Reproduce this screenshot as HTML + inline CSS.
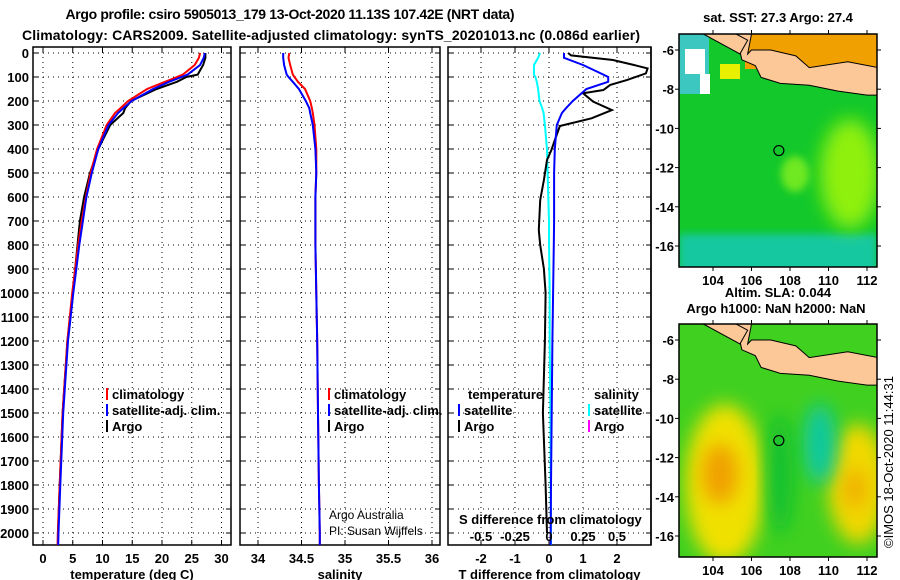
<!DOCTYPE html>
<html><head><meta charset="utf-8"><style>
html,body{margin:0;padding:0;background:#fff}
svg{display:block;font-family:"Liberation Sans",sans-serif}
.t{font-weight:bold;font-size:13px}
</style></head><body>
<svg id="s" width="900" height="580" viewBox="0 0 900 580">
<defs>
<filter id="bl" x="-50%" y="-50%" width="200%" height="200%"><feGaussianBlur stdDeviation="9"/></filter>
<filter id="bl2" x="-50%" y="-50%" width="200%" height="200%"><feGaussianBlur stdDeviation="4"/></filter>
<clipPath id="c1"><rect x="679" y="34" width="198" height="233"/></clipPath>
<clipPath id="c2"><rect x="679" y="324" width="198" height="233"/></clipPath>
</defs>
<text x="290" y="19" text-anchor="middle" class="t" font-size="14" style="font-size:14px" textLength="449">Argo profile: csiro 5905013_179 13-Oct-2020 11.13S 107.42E (NRT data)</text>
<text x="331" y="40" text-anchor="middle" class="t" style="font-size:14px" textLength="618">Climatology: CARS2009. Satellite-adjusted climatology: synTS_20201013.nc (0.086d earlier)</text>
<g id="plots"></g>
<g id="maps"></g>
<text transform="translate(893,548) rotate(-90)" style="font-size:13px">©IMOS 18-Oct-2020 11:44:31</text>
</svg>
<script>
// depth levels (m)
const depths=[0,20,50,90,100,120,150,200,230,250,300,400,500,600,700,800,1000,1200,1500,1800,2000,2050];
// temperature (deg C)
const tClim=[26.4,26.2,25.5,23.5,22.5,20.5,17.5,14.3,13.0,12.1,10.7,9.1,8.0,7.2,6.5,5.9,4.9,4.1,3.3,2.8,2.5,2.45];
const tSat=[27.2,27.0,26.4,24.3,23.3,21.2,18.5,14.9,13.5,12.6,11.0,9.3,8.2,7.3,6.7,6.1,5.1,4.2,3.4,2.9,2.6,2.55];
const tArgo=[27.3,27.3,26.9,26.0,24.1,22.5,19.1,14.8,13.8,13.5,11.3,9.3,7.9,6.9,6.2,5.8,5.0,4.1,3.3,2.8,2.5,2.5];
// salinity
const sClim=[34.36,34.35,34.37,34.40,34.42,34.46,34.54,34.60,34.62,34.63,34.65,34.67,34.67,34.66,34.66,34.66,34.67,34.68,34.69,34.70,34.71,34.71];
const sSat=[34.29,34.29,34.30,34.33,34.35,34.40,34.47,34.55,34.59,34.60,34.63,34.66,34.67,34.66,34.66,34.66,34.67,34.68,34.69,34.70,34.71,34.71];
// differences from climatology
const dTsat=[0.44,0.44,1.0,1.6,1.74,1.74,1.1,0.7,0.5,0.38,0.23,0.17,0.15,0.15,0.15,0.14,0.12,0.1,0.08,0.06,0.05,0.05];
const dDepthArgo=[0,10,29,50,64,85,112,133,154,168,203,238,272,304,363,404,446,529,613,738,800,900,1000,1200,1500,1800,2000];
const dTargo=[0.56,0.65,1.88,2.5,2.9,2.85,2.3,1.8,1.6,1.0,1.3,1.85,1.25,0.32,0.17,0.07,-0.06,-0.15,-0.26,-0.3,-0.26,-0.15,-0.1,-0.12,-0.18,-0.1,-0.06];
const dSsat=[-0.066,-0.08,-0.11,-0.11,-0.10,-0.09,-0.08,-0.07,-0.05,-0.04,-0.03,-0.015,-0.01,-0.005,0,0,0.005,0.005,0.01,0.012,0.015,0.015];
const depthTicks=[0,100,200,300,400,500,600,700,800,900,1000,1100,1200,1300,1400,1500,1600,1700,1800,1900,2000];
const tTicks=[0,5,10,15,20,25,30];
const sTicks=[34,34.5,35,35.5,36];
const sTickLabels=["34","34.5","35","35.5","36"];
const dTTicks=[-2,-1,0,1,2];
const dSTicks=[-0.5,-0.25,0,0.25,0.5];
const dSTickLabels=["-0.5","-0.25","0","0.25","0.5"];

const NS="http://www.w3.org/2000/svg";
const G=document.getElementById('plots');
function mk(tag,at,parent){const e=document.createElementNS(NS,tag);for(const k in at)e.setAttribute(k,at[k]);(parent||G).appendChild(e);return e;}
const yD=d=>53+d*0.24;
const Y0=47,Y1=545;
function panel(name,x0,x1,xs,vticks,labels,title){
  const g=mk('g',{});
  
  
  mk('rect',{x:x0,y:Y0,width:x1-x0,height:Y1-Y0,fill:'#fff',stroke:'#000','stroke-width':1.5},g);
  depthTicks.forEach(d=>{mk('line',{x1:x0,x2:x1,y1:yD(d),y2:yD(d),stroke:'#000','stroke-dasharray':'1 4'},g);
    mk('line',{x1:x0,x2:x0+5,y1:yD(d),y2:yD(d),stroke:'#000'},g);mk('line',{x1:x1-5,x2:x1,y1:yD(d),y2:yD(d),stroke:'#000'},g);});
  vticks.forEach((v,i)=>{const x=xs(v);mk('line',{x1:x,x2:x,y1:Y0,y2:Y1,stroke:'#000','stroke-dasharray':'1 4'},g);
    mk('line',{x1:x,x2:x,y1:Y0,y2:Y0+5,stroke:'#000'},g);mk('line',{x1:x,x2:x,y1:Y1-5,y2:Y1,stroke:'#000'},g);
    const t=mk('text',{x:x,y:563,'text-anchor':'middle',class:'t'},g);t.textContent=labels[i];
    
    });
  const tt=mk('text',{x:(x0+x1)/2,y:579,'text-anchor':'middle',class:'t'},g);tt.textContent=title;
  
  
  return g;
}
function line(g,xs,vals,ds,color,name,w){
  const p=mk('polyline',{points:vals.map((v,i)=>xs(v).toFixed(1)+','+yD(ds[i]).toFixed(1)).join(' '),fill:'none',stroke:color,'stroke-width':w||2},g);
  
  
}
function legend(g,x,y,color,label){
  if(color)mk('rect',{x:x,y:y-11,width:2,height:12,fill:color},g);
  const t=mk('text',{x:x+6,y:y,class:'t'},g);t.textContent=label;
  
  
}
// panel 1
const xT=v=>43+v*5.95;
const g1=panel('temperature-panel',33,231,xT,tTicks,tTicks.map(String),'temperature (deg C)');
depthTicks.forEach(d=>{const t=mk('text',{x:29,y:yD(d)+5,'text-anchor':'end',class:'t'});t.textContent=d;
  
  });
line(g1,xT,tArgo,depths,'#000','argo-temperature-line');
line(g1,xT,tClim,depths,'#f00','climatology-temperature-line');
line(g1,xT,tSat,depths,'#00f','satellite-temperature-line');
legend(g1,106,399,'#f00','climatology');legend(g1,106,415,'#00f','satellite-adj. clim.');legend(g1,106,431,'#000','Argo');
// panel 2
const xS=v=>258+(v-34)*87;
const g2=panel('salinity-panel',240,440,xS,sTicks,sTickLabels,'salinity');
line(g2,xS,sClim,depths,'#f00','climatology-salinity-line');
line(g2,xS,sSat.map((v,i)=>v),depths,'#000','argo-salinity-line',1.5);
line(g2,xS,sSat,depths,'#00f','satellite-salinity-line');
legend(g2,328,399,'#f00','climatology');legend(g2,328,415,'#00f','satellite-adj. clim.');legend(g2,328,431,'#000','Argo');
let a=mk('text',{x:329,y:519,'font-size':12},g2);a.textContent='Argo Australia';


a=mk('text',{x:329,y:535,'font-size':12},g2);a.textContent='PI: Susan Wijffels';


// panel 3
const xD=v=>549+v*34;
const xDS=v=>549+v*136;
const g3=panel('difference-panel',448,651,xD,dTTicks,dTTicks.map(String),'T difference from climatology');
mk('line',{x1:651,x2:651,y1:Y0,y2:Y1,stroke:'#000','stroke-width':1.5},g3);
line(g3,xDS,dSsat,depths,'#0ff','salinity-satellite-diff-line');
line(g3,xD,dTargo,dDepthArgo,'#000','temperature-argo-diff-line');
line(g3,xD,dTsat,depths,'#00f','temperature-satellite-diff-line');
legend(g3,462,399,null,'temperature');legend(g3,458,415,'#00f','satellite');legend(g3,458,431,'#000','Argo');
legend(g3,588,399,null,'salinity');legend(g3,588,415,'#0ff','satellite');legend(g3,588,431,'#f0f','Argo');
a=mk('text',{x:459,y:524,class:'t'},g3);a.textContent='S difference from climatology';


dSTicks.forEach((v,i)=>{const t=mk('text',{x:xDS(v),y:541,'text-anchor':'middle',class:'t'},g3);t.textContent=dSTickLabels[i];
  
  });

// maps
const M=document.getElementById('maps');
const lonTicks=[104,106,108,110,112];
const latTicks=[-6,-8,-10,-12,-14,-16];
function mapPanel(name,top,kind){
  const g=mk('g',{},M);
  
  
  const lx=v=>713+(v-104)*19.25, ly=v=>top+16+(-6-v)*19.6;
  const c=mk('g',{'clip-path':'url(#'+(kind==1?'c1':'c2')+')'},g);
  if(kind==1){
    mk('rect',{x:679,y:top,width:198,height:233,fill:'#12c82a'},c);
    mk('rect',{x:679,y:top+200,width:198,height:40,fill:'#18c8a0',filter:'url(#bl2)'},c);
    mk('ellipse',{cx:850,cy:top+140,rx:30,ry:55,fill:'#90f010',filter:'url(#bl)'},c);
    mk('ellipse',{cx:795,cy:top+140,rx:14,ry:18,fill:'#70e820',filter:'url(#bl2)'},c);
    mk('rect',{x:679,y:top,width:30,height:60,fill:'#3cc8c0'},c);
    mk('rect',{x:685,y:top+15,width:20,height:25,fill:'#fff'},c);
    mk('rect',{x:700,y:top+40,width:10,height:20,fill:'#fff'},c);
    mk('rect',{x:720,y:top+30,width:20,height:15,fill:'#e8f000'},c);
    mk('rect',{x:745,y:top,width:132,height:35,fill:'#f0a000'},c);
  } else {
    mk('rect',{x:679,y:top,width:198,height:233,fill:'#40d020'},c);
    mk('ellipse',{cx:725,cy:top+160,rx:40,ry:80,fill:'#f0e000',filter:'url(#bl)'},c);
    mk('ellipse',{cx:720,cy:top+150,rx:18,ry:30,fill:'#f0a000',filter:'url(#bl)'},c);
    mk('ellipse',{cx:858,cy:top+160,rx:30,ry:60,fill:'#f0d800',filter:'url(#bl)'},c);
    mk('ellipse',{cx:855,cy:top+165,rx:12,ry:20,fill:'#f0b000',filter:'url(#bl)'},c);
    mk('ellipse',{cx:820,cy:top+120,rx:16,ry:40,fill:'#10c8a0',filter:'url(#bl)'},c);
    mk('ellipse',{cx:780,cy:top+150,rx:12,ry:60,fill:'#10c030',filter:'url(#bl)'},c);
  }
  // land (Java / Sumatra)
  mk('path',{d:`M${lx(105.2)},${top} L${lx(105.5)},${ly(-6.5)} L${lx(106.2)},${ly(-6.8)} L${lx(106.5)},${ly(-7.4)} L${lx(107.5)},${ly(-7.7)} L${lx(109)},${ly(-7.8)} L${lx(110.5)},${ly(-8.1)} L${lx(112)},${ly(-8.3)} L${lx(112.6)},${ly(-8.3)} L${lx(112.6)},${ly(-6.9)} L${lx(111)},${ly(-6.6)} L${lx(109)},${ly(-6.9)} L${lx(108.3)},${ly(-6.3)} L${lx(107)},${ly(-6.0)} L${lx(106)},${ly(-6.0)} L${lx(105.8)},${top+20} L${lx(106)},${top} Z`,fill:'#fcc898',stroke:'#000','stroke-width':1},c);
  mk('path',{d:`M${lx(103.5)},${top} L${lx(105.4)},${ly(-6.2)} L${lx(105.8)},${ly(-5.5)} L${lx(105.2)},${top} Z`,fill:'#fcc898',stroke:'#000','stroke-width':1},c);
  mk('circle',{cx:lx(107.42),cy:ly(-11.13),r:5,fill:'none',stroke:'#000','stroke-width':1.2},g);
  mk('rect',{x:679,y:top,width:198,height:233,fill:'none',stroke:'#000','stroke-width':1.5},g);
  lonTicks.forEach(v=>{mk('line',{x1:lx(v),x2:lx(v),y1:top,y2:top-4,stroke:'#000'},g);mk('line',{x1:lx(v),x2:lx(v),y1:top+233,y2:top+237,stroke:'#000'},g);
    const t=mk('text',{x:lx(v),y:top+251,'text-anchor':'middle',class:'t'},g);t.textContent=v;
    
    });
  latTicks.forEach(v=>{mk('line',{x1:675,x2:679,y1:ly(v),y2:ly(v),stroke:'#000'},g);mk('line',{x1:877,x2:881,y1:ly(v),y2:ly(v),stroke:'#000'},g);
    const t=mk('text',{x:674,y:ly(v)+5,'text-anchor':'end',class:'t'},g);t.textContent=v;
    
    });
}
mapPanel('sst-map',34,1);
mapPanel('sla-map',324,2);
let m=mk('text',{x:778,y:22,'text-anchor':'middle',class:'t'},M);m.textContent='sat. SST: 27.3 Argo: 27.4';


m=mk('text',{x:778,y:297,'text-anchor':'middle',class:'t'},M);m.textContent='Altim. SLA: 0.044';


m=mk('text',{x:776,y:313,'text-anchor':'middle',class:'t'},M);m.textContent='Argo h1000: NaN h2000: NaN';


</script>
</body></html>
